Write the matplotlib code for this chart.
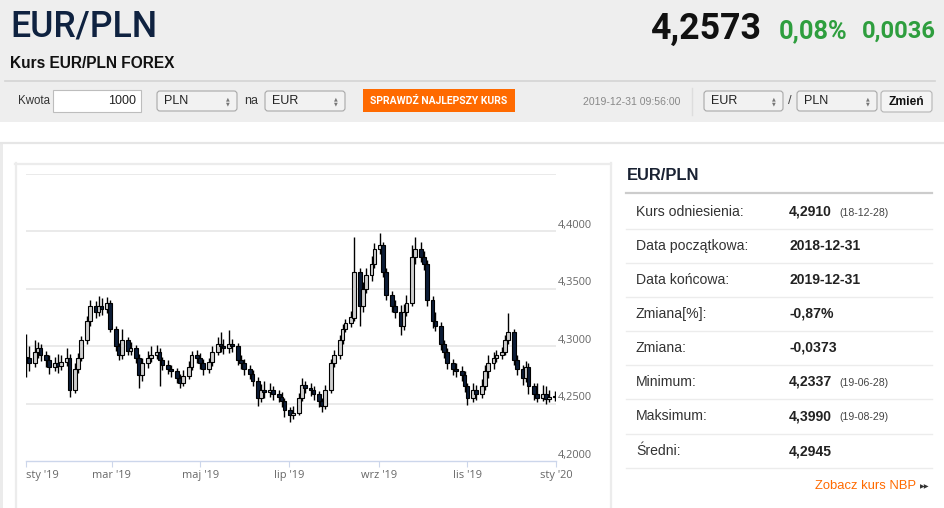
import matplotlib
matplotlib.use("Agg")
import matplotlib.pyplot as plt
from matplotlib.patches import Rectangle, FancyBboxPatch
import pandas as pd
import numpy as np

# ---------------- data ----------------
close = [4.290,4.285,4.295,4.298,4.292,4.288,4.282,4.285,4.283,4.286,
         4.290,4.262,4.280,4.290,4.305,4.322,4.335,4.330,4.335,4.332,
         4.338,4.315,4.300,4.292,4.305,4.296,4.298,4.290,4.275,4.285,
         4.290,4.292,4.295,4.288,4.284,4.280,4.278,4.272,4.268,4.274,
         4.282,4.292,4.290,4.285,4.280,4.286,4.295,4.302,4.300,4.298,
         4.302,4.300,4.288,4.285,4.280,4.276,4.270,4.255,4.262,4.260,
         4.262,4.258,4.256,4.252,4.244,4.240,4.242,4.255,4.266,4.264,
         4.262,4.258,4.252,4.248,4.262,4.285,4.292,4.305,4.315,4.320,
         4.325,4.365,4.335,4.350,4.362,4.372,4.385,4.388,4.365,4.345,
         4.335,4.330,4.318,4.330,4.338,4.378,4.385,4.378,4.372,4.340,
         4.322,4.318,4.302,4.295,4.285,4.280,4.278,4.275,4.265,4.255,
         4.262,4.258,4.265,4.278,4.285,4.290,4.292,4.295,4.305,4.312,
         4.288,4.280,4.272,4.282,4.265,4.258,4.255,4.258,4.254,4.256,
         4.257]
high = [4.311,4.300,4.305,4.304,4.302,4.296,4.292,4.291,4.293,4.292,
        4.298,4.293,4.285,4.294,4.309,4.326,4.340,4.339,4.344,4.342,
        4.343,4.340,4.318,4.303,4.315,4.308,4.304,4.301,4.293,4.290,
        4.296,4.300,4.301,4.298,4.291,4.288,4.284,4.281,4.276,4.279,
        4.287,4.296,4.297,4.294,4.289,4.290,4.300,4.308,4.312,4.306,
        4.314,4.306,4.303,4.292,4.289,4.284,4.279,4.273,4.267,4.270,
        4.268,4.265,4.262,4.260,4.255,4.247,4.248,4.259,4.272,4.270,
        4.268,4.265,4.261,4.255,4.266,4.289,4.297,4.310,4.319,4.324,
        4.331,4.395,4.368,4.356,4.368,4.379,4.390,4.399,4.391,4.368,
        4.348,4.340,4.336,4.337,4.345,4.388,4.395,4.391,4.383,4.375,
        4.344,4.330,4.321,4.305,4.298,4.289,4.285,4.283,4.278,4.268,
        4.268,4.266,4.271,4.284,4.292,4.295,4.297,4.299,4.310,4.329,
        4.315,4.292,4.284,4.287,4.285,4.268,4.268,4.266,4.265,4.262,
        4.261]
low = [4.273,4.278,4.282,4.290,4.287,4.282,4.276,4.278,4.277,4.279,
       4.283,4.256,4.259,4.277,4.287,4.302,4.318,4.325,4.326,4.327,
       4.329,4.312,4.296,4.288,4.289,4.292,4.292,4.285,4.264,4.270,
       4.281,4.286,4.289,4.265,4.279,4.276,4.273,4.268,4.264,4.265,
       4.271,4.279,4.285,4.280,4.275,4.277,4.283,4.292,4.295,4.293,
       4.294,4.295,4.284,4.280,4.275,4.271,4.265,4.248,4.251,4.255,
       4.256,4.253,4.251,4.247,4.238,4.234,4.237,4.240,4.252,4.259,
       4.257,4.253,4.247,4.243,4.245,4.259,4.282,4.289,4.302,4.312,
       4.317,4.322,4.318,4.330,4.346,4.357,4.368,4.380,4.360,4.340,
       4.330,4.325,4.310,4.314,4.326,4.335,4.372,4.373,4.366,4.335,
       4.316,4.313,4.297,4.290,4.280,4.275,4.273,4.270,4.260,4.249,
       4.251,4.253,4.255,4.262,4.272,4.280,4.286,4.289,4.292,4.302,
       4.284,4.275,4.266,4.269,4.258,4.253,4.251,4.252,4.250,4.251,
       4.252]
first_open = 4.291

y_ticks = [4.20, 4.25, 4.30, 4.35, 4.40]
y_tick_labels = ["4,2000", "4,2500", "4,3000", "4,3500", "4,4000"]
grid_levels = [4.25, 4.30, 4.35, 4.40, 4.45]
x_tick_dates = ["2019-01-01", "2019-03-01", "2019-05-01", "2019-07-01",
                "2019-09-01", "2019-11-01", "2020-01-01"]
x_tick_labels = ["sty '19", "mar '19", "maj '19", "lip '19", "wrz '19", "lis '19", "sty '20"]

table_labels = ["Kurs odniesienia:", "Data początkowa:", "Data końcowa:", "Zmiana[%]:",
                "Zmiana:", "Minimum:", "Maksimum:", "Średni:"]
table_values = ["4,2910", "2018-12-31", "2019-12-31", "-0,87%", "-0,0373",
                "4,2337", "4,3990", "4,2945"]
table_notes = ["(18-12-28)", "", "", "", "", "(19-06-28)", "(19-08-29)", ""]

# ---------------- figure ----------------
W, H = 945, 508
fig = plt.figure(figsize=(W / 100, H / 100), dpi=100)
fig.patch.set_facecolor("white")
bg = fig.add_axes([0, 0, 1, 1])
bg.set_xlim(0, W)
bg.set_ylim(H, 0)
bg.axis("off")

SANS = ["Liberation Sans", "DejaVu Sans"]
ROBO = ["Roboto", "Liberation Sans", "DejaVu Sans"]
renderer = fig.canvas.get_renderer()


def pt(px):
    return px * 0.72


def txt(x, y, s, px, color="#333333", weight="normal", ha="left", va="center",
        family=SANS, fit=None):
    t = bg.text(x, y, s, fontsize=pt(px), color=color, fontweight=weight, ha=ha, va=va,
                family=family)
    if fit is not None:
        w = t.get_window_extent(renderer=renderer).width
        if w > 0:
            t.set_fontsize(pt(px) * fit / w)
    return t


# header band
bg.add_patch(Rectangle((0, 0), W, 122, fc="#eeeeee", ec="none"))
txt(10, 27, "EUR/PLN", 36, color="#0f2240", weight="medium", family=ROBO, fit=147)
txt(762, 29, "4,2573", 36, color="#111111", weight="bold", ha="right", family=ROBO, fit=111)
txt(779, 31, "0,08%", 26, color="#2e9e3e", weight="bold", family=ROBO, fit=69)
txt(862, 31, "0,0036", 26, color="#2e9e3e", weight="bold", family=ROBO, fit=74)
txt(10, 64, "Kurs EUR/PLN FOREX", 15, color="#111111", weight="bold", fit=165)
bg.plot([5, 935], [81, 81], color="#d4d4d4", lw=1.2)

# controls row
txt(18, 101, "Kwota", 12, fit=32)
bg.add_patch(Rectangle((53, 90), 88, 22, fc="white", ec="#bdbdbd", lw=0.8))
txt(136, 101, "1000", 12.5, color="#222222", ha="right")


def select(x0, x1, label):
    bg.add_patch(FancyBboxPatch((x0, 91), x1 - x0, 20,
                                boxstyle="round,pad=0,rounding_size=3",
                                fc="#f2f2f2", ec="#a8a8a8", lw=0.8))
    txt(x0 + 7, 101, label, 12.5, color="#222222")
    bg.text(x1 - 9, 98.5, "▲", fontsize=3.5, color="#777777", ha="center", va="center")
    bg.text(x1 - 9, 104, "▼", fontsize=3.5, color="#777777", ha="center", va="center")


select(157, 237, "PLN")
txt(244, 101, "na", 12.5)
select(265, 345, "EUR")
bg.add_patch(Rectangle((363, 89), 152, 23, fc="#ff6a00", ec="none"))
txt(439, 101, "SPRAWDŹ NAJLEPSZY KURS", 11, color="white", weight="bold", ha="center",
    family=ROBO, fit=138)
txt(583, 102, "2019-12-31 09:56:00", 10.5, color="#888888", fit=98)
bg.plot([692, 692], [88, 115], color="#dddddd", lw=1)
select(704, 783, "EUR")
txt(790, 101, "/", 13, color="#444444", ha="center")
select(797, 877, "PLN")
bg.add_patch(FancyBboxPatch((881, 91), 51, 21, boxstyle="round,pad=0,rounding_size=3",
                            fc="#f4f4f4", ec="#b5b5b5", lw=0.8))
txt(906.5, 102, "Zmień", 12, color="#111111", weight="bold", ha="center")

# panel frames
bg.plot([0, W], [142.5, 142.5], color="#e6e6e6", lw=1.6)
bg.add_patch(Rectangle((0, 142), 3, H - 142, fc="#ebebeb", ec="none"))
bg.plot([15.5, 15.5], [163, H], color="#ececec", lw=1.6)
bg.plot([15, 611], [163.5, 163.5], color="#ececec", lw=1.6)
bg.plot([610.5, 610.5], [163, H], color="#ececec", lw=1.6)

# right info panel
txt(627, 176, "EUR/PLN", 16, color="#1a2233", weight="bold", fit=73)
bg.plot([626, 932], [192.5, 192.5], color="#cccccc", lw=1.6)
row_y = [211.5, 246, 280, 314, 347.5, 382, 416.5, 451]
sep_y = [228.5, 262.5, 296.5, 330.5, 364.5, 399, 434, 468]
for yy in sep_y:
    bg.plot([626, 932], [yy, yy], color="#ececec", lw=1)
for yy, lab, val, note in zip(row_y, table_labels, table_values, table_notes):
    txt(636, yy, lab, 14, color="#333333")
    txt(789, yy, val, 14, color="#222222", weight="bold")
    if note:
        txt(839, yy + 1, note, 10.5, color="#444444")
txt(916, 486, "Zobacz kurs NBP", 13, color="#ff6a00", ha="right")
bg.text(925, 486.5, "▶▶", fontsize=4.5, color="#333333", ha="center", va="center")

# ---------------- chart ----------------
ax = fig.add_axes([26 / W, (H - 461) / H, 530 / W, 287 / H])
ax.patch.set_alpha(0)
dates = pd.bdate_range(start="2019-01-01", periods=len(close), freq="2B")
c = np.array(close)
o = np.concatenate([[first_open], c[:-1]])
hi = np.array(high)
lo = np.array(low)
up = c >= o
fills = np.where(up, "#cfcfcf", "#0c1c36")
bottoms = np.minimum(o, c)
heights = np.maximum(np.abs(c - o), 0.0009)

ax.vlines(dates, lo, hi, color="black", lw=1.0, zorder=3)
ax.bar(dates, heights, bottom=bottoms, width=2.6, color=fills, edgecolor="black",
       linewidth=0.8, zorder=4)

for g in grid_levels:
    ax.axhline(g, color="#e4e4e4", lw=1.1, zorder=1)

ax.set_ylim(4.20, 4.45)
ax.set_xlim(pd.Timestamp("2019-01-01"), pd.Timestamp("2020-01-01"))
for s in ["top", "right", "left"]:
    ax.spines[s].set_visible(False)
ax.spines["bottom"].set_color("#ccd6eb")
ax.spines["bottom"].set_linewidth(1)
ax.set_yticks([])
ax.set_xticks(pd.to_datetime(x_tick_dates))
ax.set_xticklabels(x_tick_labels, fontsize=pt(11), color="#666666", family=["Open Sans", "DejaVu Sans"])
ax.tick_params(axis="x", direction="out", length=4.5, width=0.8, color="#ccd6eb", pad=2)
ax.get_xticklabels()[0].set_horizontalalignment("left")
ytr = ax.get_yaxis_transform()
for v, lab in zip(y_ticks, y_tick_labels):
    ax.text(1.004, v + 0.0052, lab, transform=ytr, fontsize=pt(11), color="#666666",
            ha="left", va="center", family=["Open Sans", "DejaVu Sans"], clip_on=False)

fig.savefig("out.png", dpi=100)
